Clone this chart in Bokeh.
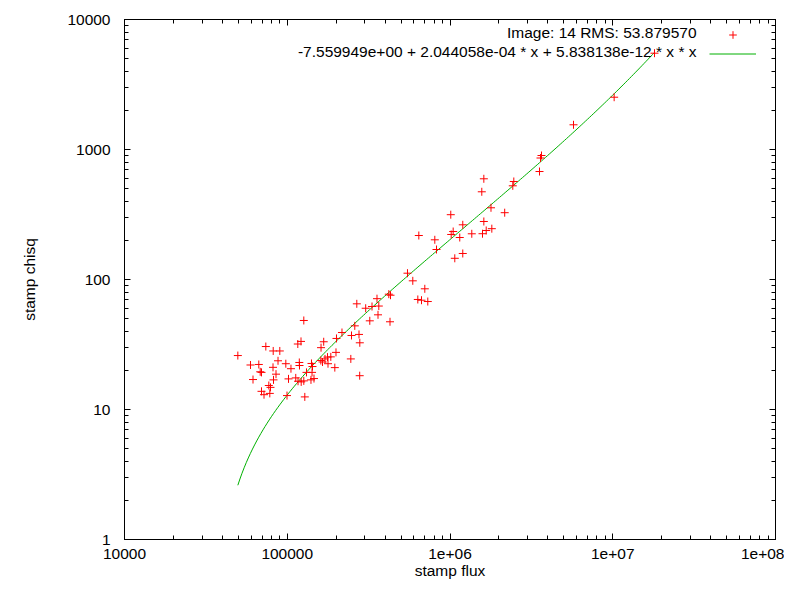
import numpy as np
from bokeh.plotting import figure
from bokeh.models import (Range1d, LogAxis, LogTicker, CustomJSTickFormatter,
                          Legend, LegendItem, Label)
from bokeh.embed import file_html
from bokeh.resources import INLINE

# ---------------- data ----------------
FLUX = [49700, 59450, 66870, 61600, 73840, 81980, 90000, 87760, 81750, 68210,
        69480, 85300, 82330, 77040, 78900, 69480, 71970, 78120, 98000, 105400,
        101800, 99650, 112800, 116500, 121800, 126400, 116100, 121500, 126400, 118600,
        118900, 131300, 128200, 140900, 142900, 142000, 139900, 146000, 160800, 164700,
        170600, 176700, 185200, 178000, 196000, 161300, 167500, 199300, 200700, 216900,
        248200, 276000, 260000, 279100, 245800, 278700, 267500, 303400, 331700, 365200,
        356000, 361100, 321500, 427900, 420700, 431000, 548100, 590700, 700100, 634300,
        668300, 730400, 643300, 806500, 826200, 1011000, 1198000, 1046000, 1017000, 1148000,
        1361000, 1584000, 1669000, 1807000, 1614000, 1198000, 1070000, 1786000, 2168000, 1614000,
        1568000, 2466000, 2431000, 3649000, 3598000, 3548000, 5739000, 10200000, 18050000]

CHISQ = [26.0, 22.0, 22.2, 17.0, 30.5, 28.2, 28.2, 23.7, 21.1, 19.5,
         19.3, 18.7, 16.9, 15.3, 14.8, 13.8, 13.0, 13.3, 22.5, 20.6,
         17.2, 12.8, 17.5, 16.5, 16.3, 16.6, 31.9, 33.4, 48.4, 23.0,
         21.8, 19.3, 12.5, 22.6, 21.4, 19.3, 16.9, 17.3, 23.8, 23.2,
         24.5, 25.3, 25.4, 22.5, 21.0, 29.9, 33.2, 27.5, 35.2, 39.1,
         37.1, 37.8, 44.0, 32.6, 24.5, 18.2, 65.0, 60.1, 62.0, 62.5,
         71.2, 53.5, 48.1, 47.3, 77.1, 75.7, 111.8, 97.7, 84.8, 70.2,
         69.3, 67.7, 218.0, 202.0, 170.1, 315.1, 263.5, 233.9, 222.0, 210.4,
         224.7, 225.0, 238.2, 246.0, 279.4, 158.5, 145.6, 356.1, 326.5, 595.2,
         472.8, 567.4, 525.7, 899.0, 860.0, 677.0, 1549.0, 2525.0, 5506.0]

# fit: c0 + c1*x + c2*x*x  (coefficients printed in the legend)
FIT_COEFFS = [-7.559949, 2.044058e-04, 5.838138e-12]

X_TICK_VALUES = [1e4, 1e5, 1e6, 1e7, 1e8]
X_TICK_LABELS = ["10000", "100000", "1e+06", "1e+07", "1e+08"]
Y_TICK_VALUES = [1, 10, 100, 1000, 10000]
Y_TICK_LABELS = ["1", "10", "100", "1000", "10000"]

LEGEND_LABELS = ["Image: 14 RMS: 53.879570",
                 "-7.559949e+00 + 2.044058e-04 * x + 5.838138e-12 * x * x"]
X_LABEL = "stamp flux"
Y_LABEL = "stamp chisq"

FONT = "Liberation Sans"
FS = "15.5px"

# fitted curve over the data range
xc = np.logspace(np.log10(min(FLUX)), np.log10(max(FLUX)), 200)
yc = FIT_COEFFS[0] + FIT_COEFFS[1] * xc + FIT_COEFFS[2] * xc * xc

p = figure(width=784, height=584, x_axis_type="log", y_axis_type="log",
           x_range=Range1d(1e4, 1e8), y_range=Range1d(1, 1e4),
           output_backend="svg", toolbar_location=None,
           min_border_left=124, min_border_right=9, min_border_top=19,
           min_border_bottom=45)
p.background_fill_color = "white"
p.border_fill_color = "white"
p.outline_line_color = "black"
p.outline_line_width = 1
p.xgrid.visible = False
p.ygrid.visible = False

curve = p.line(xc, yc, line_color="#00b000", line_width=1)
pts = p.scatter(FLUX, CHISQ, marker="cross", size=8, line_color="#ff0000",
                line_width=1)


def fmt(vals, labs):
    return CustomJSTickFormatter(args=dict(vals=vals, labs=labs), code="""
        for (let i = 0; i < vals.length; i++) {
            if (Math.abs(Math.log10(tick) - Math.log10(vals[i])) < 1e-6) return labs[i];
        }
        return '';
    """)


def style(ax):
    ax.axis_line_color = "black"
    ax.major_tick_line_color = "black"
    ax.minor_tick_line_color = "black"
    ax.major_tick_in = 6
    ax.major_tick_out = 0
    ax.minor_tick_in = 4
    ax.minor_tick_out = 0
    ax.major_label_text_font = FONT
    ax.major_label_text_font_size = FS
    ax.major_label_text_color = "black"
    ax.axis_label_text_font = FONT
    ax.axis_label_text_font_size = FS
    ax.axis_label_text_font_style = "normal"
    ax.axis_label_text_color = "black"


xa = p.xaxis[0]
style(xa)
xa.ticker = LogTicker(num_minor_ticks=10)
xa.formatter = fmt(X_TICK_VALUES, X_TICK_LABELS)
xa.axis_label = X_LABEL
xa.major_label_standoff = 9
xa.axis_label_standoff = 0

ya = p.yaxis[0]
style(ya)
ya.ticker = LogTicker(num_minor_ticks=10)
ya.formatter = fmt(Y_TICK_VALUES, Y_TICK_LABELS)
ya.axis_label = Y_LABEL
ya.major_label_standoff = 14
ya.axis_label_standoff = 26

# mirrored axes (ticks only)
for side in ("above", "right"):
    ax = LogAxis(ticker=LogTicker(num_minor_ticks=10),
                 formatter=CustomJSTickFormatter(code="return '';"))
    style(ax)
    ax.major_label_text_font_size = "0px"
    ax.major_label_standoff = 0
    p.add_layout(ax, side)

# legend (gnuplot style: text on the left, sample on the right)
legend = Legend(items=[LegendItem(label=" ", renderers=[pts]),
                       LegendItem(label=" ", renderers=[curve])],
                location=(585, 476), orientation="vertical",
                glyph_width=47, glyph_height=19, label_standoff=0,
                label_width=0, label_height=0, spacing=0, padding=0, margin=0,
                border_line_color=None, background_fill_alpha=0,
                label_text_font_size="1px")
p.add_layout(legend)

for txt, yy in zip(LEGEND_LABELS, (507, 488)):
    p.add_layout(Label(x=572, y=yy, x_units="screen", y_units="screen", text=txt,
                       text_align="right", text_baseline="middle",
                       text_font=FONT, text_font_size=FS, text_color="black"))

open("out.html", "w").write(file_html(p, INLINE))
